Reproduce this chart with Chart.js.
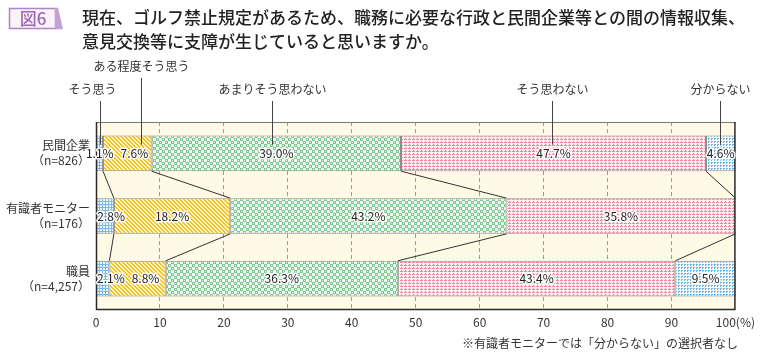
<!DOCTYPE html>
<html><head><meta charset="utf-8">
<script src="https://cdn.jsdelivr.net/npm/chart.js@4.4.1/dist/chart.umd.min.js"></script>
<style>html,body{margin:0;padding:0;background:#fff}</style>
</head><body>
<canvas id="c" width="760" height="360" style="width:760px;height:360px;display:block"></canvas>
<script>
const categories = [['民間企業', '（n=826）'], ['有識者モニター', '（n=176）'], ['職員', '（n=4,257）']];
const seriesNames = ['そう思う', 'ある程度そう思う', 'あまりそう思わない', 'そう思わない', '分からない'];
const soOmou = [1.1, 2.8, 2.1];
const aruteido = [7.6, 18.2, 8.8];
const amari = [39.0, 43.2, 36.3];
const soOmowanai = [47.7, 35.8, 43.4];
const wakaranai = [4.6, 0, 9.5];
const xTicks = [0, 10, 20, 30, 40, 50, 60, 70, 80, 90, 100];
const figLabel = '図6';
const titleLines = ['現在、ゴルフ禁止規定があるため、職務に必要な行政と民間企業等との間の情報収集、', '意見交換等に支障が生じていると思いますか。'];
const footnote = '※有識者モニターでは「分からない」の選択者なし';

const FONT = "'Noto Sans CJK JP', 'Noto Sans', sans-serif";
const canvas = document.getElementById('c');
const mainCtx = canvas.getContext('2d');

function makePattern(w, h, bg, fg, pixels) {
  const t = document.createElement('canvas');
  t.width = w; t.height = h;
  const g = t.getContext('2d');
  g.fillStyle = bg; g.fillRect(0, 0, w, h);
  g.fillStyle = fg;
  for (let y = 0; y < h; y++) for (let x = 0; x < w; x++) if (pixels(x, y)) g.fillRect(x, y, 1, 1);
  return mainCtx.createPattern(t, 'repeat');
}
const patterns = [
  makePattern(3, 3, '#eef6fc', '#7ab9e4', (x, y) => x === 0 || y === 0),
  makePattern(4, 4, '#fff7d4', '#f5c21a', (x, y) => ((x - y + 8) % 4) < 2),
  makePattern(6, 6, '#f0faf2', '#7fc792', (x, y) => ((Math.floor(x / 3) + Math.floor(y / 3)) % 2 === 0) && !(x % 3 === 1 && y % 3 === 1)),
  makePattern(4, 3, '#ffeef2', '#ef89a2', (x, y) => (y === 0 && x === 1) || (y === 1 && x <= 2)),
  makePattern(3, 3, '#f7fbfe', '#6fb3e2', (x, y) => x < 2 && y < 2 && !(x === 1 && y === 1))
];
const seriesData = [soOmou, aruteido, amari, soOmowanai, wakaranai];

const decor = {
  id: 'decor',
  beforeDraw(chart) {
    const ctx = chart.ctx, a = chart.chartArea;
    ctx.save();
    ctx.fillStyle = '#ffffff';
    ctx.fillRect(0, 0, chart.width, chart.height);
    ctx.fillStyle = '#fffae6';
    ctx.fillRect(a.left, a.top, a.right - a.left, a.bottom - a.top);
    ctx.restore();
  },
  afterDatasetsDraw(chart) {
    const ctx = chart.ctx, a = chart.chartArea;
    const metas = seriesData.map((_, d) => chart.getDatasetMeta(d));
    ctx.save();
    // connector lines between bars
    ctx.strokeStyle = '#333';
    ctx.lineWidth = 1;
    for (let i = 0; i < categories.length - 1; i++) {
      for (let d = 0; d < seriesData.length - 1; d++) {
        const e1 = metas[d].data[i], e2 = metas[d].data[i + 1];
        ctx.beginPath();
        ctx.moveTo(e1.x, e1.y + e1.height / 2);
        ctx.lineTo(e2.x, e2.y - e2.height / 2);
        ctx.stroke();
      }
    }
    // plot border
    ctx.strokeStyle = '#777';
    ctx.beginPath(); ctx.moveTo(a.left, a.top + 0.5); ctx.lineTo(a.right, a.top + 0.5); ctx.stroke();
    ctx.strokeStyle = '#2a2a2a';
    ctx.lineWidth = 1.5;
    ctx.beginPath();
    ctx.moveTo(a.left + 0.5, a.top); ctx.lineTo(a.left + 0.5, a.bottom - 0.5);
    ctx.lineTo(a.right - 0.5, a.bottom - 0.5); ctx.lineTo(a.right - 0.5, a.top);
    ctx.stroke();
    ctx.lineWidth = 1;

    // value labels
    const shift = { '0-1': 7, '1-0': 6, '2-0': 8, '2-1': 8 };
    ctx.font = '12px ' + FONT;
    ctx.textAlign = 'center';
    ctx.textBaseline = 'middle';
    ctx.lineJoin = 'round';
    const labelX = [];
    for (let d = 0; d < seriesData.length; d++) {
      for (let i = 0; i < categories.length; i++) {
        const v = seriesData[d][i];
        if (!v) continue;
        const e = metas[d].data[i];
        const x = (e.x + e.base) / 2 + (shift[i + '-' + d] || 0);
        if (i === 0) labelX[d] = x;
        const txt = v.toFixed(1) + '%';
        ctx.strokeStyle = 'rgba(255,255,255,0.95)';
        ctx.lineWidth = 3;
        ctx.strokeText(txt, x, e.y);
        ctx.fillStyle = '#222';
        ctx.fillText(txt, x, e.y);
      }
    }
    // series name leaders above first bar
    const top0 = metas[0].data[0].y - metas[0].data[0].height / 2;
    const leadShift = [0, 7, -4, -2, -1];
    const textShift = [-8, 0, 0, 0, 0];
    ctx.fillStyle = '#333';
    ctx.strokeStyle = '#444';
    ctx.lineWidth = 1;
    for (let d = 0; d < seriesNames.length; d++) {
      const lx = Math.round(labelX[d] + leadShift[d]) + 0.5;
      const ty = d === 1 ? 66 : 89;
      ctx.fillText(seriesNames[d], lx + textShift[d], ty);
      ctx.beginPath();
      ctx.moveTo(lx, ty + 12);
      ctx.lineTo(lx, top0 + 9);
      ctx.stroke();
    }
    ctx.restore();
  },
  afterDraw(chart) {
    const ctx = chart.ctx;
    ctx.save();
    // figure label box
    ctx.fillStyle = '#fcf3fa';
    ctx.fillRect(9, 8, 46, 21);
    ctx.strokeStyle = '#b184c6';
    ctx.lineWidth = 1.5;
    ctx.strokeRect(9.5, 8.5, 46, 20);
    ctx.fillStyle = '#c5a2d6';
    ctx.beginPath();
    ctx.moveTo(55, 7.8); ctx.lineTo(58, 7.8); ctx.lineTo(63, 29.2); ctx.lineTo(55, 29.2); ctx.closePath();
    ctx.fill();
    ctx.fillStyle = '#9a68b2';
    ctx.font = '500 17px ' + FONT;
    ctx.textAlign = 'center';
    ctx.textBaseline = 'middle';
    ctx.fillText(figLabel, 33, 19);
    // title
    ctx.fillStyle = '#222';
    ctx.textAlign = 'left';
    ctx.font = '500 17px ' + FONT;
    ctx.fillText(titleLines[0], 82, 18);
    ctx.fillText(titleLines[1], 82, 42);
    // footnote
    ctx.font = '12px ' + FONT;
    ctx.fillStyle = '#333';
    ctx.textAlign = 'right';
    ctx.fillText(footnote, 738, 343);
    ctx.restore();
  }
};

new Chart(canvas, {
  type: 'bar',
  data: {
    labels: categories,
    datasets: seriesData.map((arr, d) => ({
      label: seriesNames[d],
      data: arr,
      backgroundColor: patterns[d],
      borderColor: '#8c8c8c',
      borderWidth: 1,
      borderSkipped: false,
      categoryPercentage: 1,
      barPercentage: 0.57
    }))
  },
  options: {
    indexAxis: 'y',
    responsive: false,
    animation: false,
    devicePixelRatio: 1,
    layout: { padding: { top: 122, right: 23, left: 0, bottom: 0 } },
    plugins: { legend: { display: false }, tooltip: { enabled: false }, title: { display: false } },
    scales: {
      x: {
        stacked: true, min: 0, max: 100, position: 'bottom',
        afterBuildTicks: s => { s.ticks = xTicks.map(v => ({ value: v })); },
        afterFit: s => { s.height = 50; },
        ticks: {
          autoSkip: false, maxRotation: 0, padding: 5, color: '#333',
          font: { size: 12, family: FONT },
          callback: v => v === 100 ? '100(%)' : String(v)
        },
        grid: {
          drawTicks: false, tickLength: 0, lineWidth: 1,
          color: c => (c.tick && (c.tick.value === 0 || c.tick.value === 100)) ? 'rgba(0,0,0,0)' : '#b9946f'
        },
        border: { display: false, dash: [4, 3] }
      },
      y: {
        stacked: true,
        afterFit: s => { s.width = 96; },
        grid: { display: false, drawTicks: false, tickLength: 0 },
        border: { display: false },
        ticks: { color: '#333', padding: 6, font: { size: 12, family: FONT, lineHeight: 1.25 } }
      }
    }
  },
  plugins: [decor]
});
</script>
</body></html>
